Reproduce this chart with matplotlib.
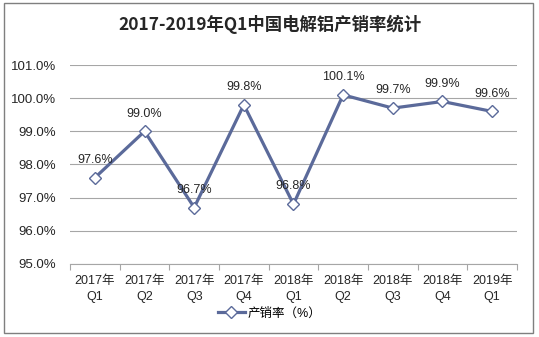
import matplotlib
matplotlib.use("Agg")
import matplotlib.pyplot as plt
from matplotlib.patches import Rectangle
from matplotlib.ticker import FuncFormatter

plt.rcParams['font.family'] = ['Liberation Sans', 'Noto Sans CJK SC', 'DejaVu Sans']

CATEGORIES = ["2017年\nQ1", "2017年\nQ2", "2017年\nQ3", "2017年\nQ4", "2018年\nQ1",
              "2018年\nQ2", "2018年\nQ3", "2018年\nQ4", "2019年\nQ1"]
RATE = [97.6, 99.0, 96.7, 99.8, 96.8, 100.1, 99.7, 99.9, 99.6]
YTICKS = [95.0, 96.0, 97.0, 98.0, 99.0, 100.0, 101.0]

LINE_COLOR = "#5B6A9A"
GRID_COLOR = "#A6A6A6"
TEXT_COLOR = "#262626"

fig = plt.figure(figsize=(5.39, 3.37), dpi=100)
fig.patches.append(Rectangle((0.007, 0.012), 0.982, 0.979, transform=fig.transFigure,
                             fill=False, edgecolor="#7F7F7F", linewidth=1.0))
ax = fig.add_axes([0.130, 0.217, 0.829, 0.590])

x = list(range(len(CATEGORIES)))
ax.plot(x, RATE, color=LINE_COLOR, linewidth=2.3, marker="D", markersize=6,
        markerfacecolor="white", markeredgecolor=LINE_COLOR, markeredgewidth=1.0,
        label="产销率（%）", zorder=3)
for xi, v in zip(x, RATE):
    ax.annotate(f"{v:.1f}%", (xi, v), xytext=(0, 8.5), textcoords="offset points",
                ha="center", va="bottom", fontsize=9, color=TEXT_COLOR)

ax.set_xlim(-0.5, len(CATEGORIES) - 0.5)
ax.set_ylim(95, 101)
ax.set_yticks(YTICKS)
ax.yaxis.set_major_formatter(FuncFormatter(lambda v, p: f"{v:.1f}%"))
ax.set_xticks([i - 0.5 for i in range(len(CATEGORIES) + 1)], minor=False)
ax.set_xticklabels([])
ax.set_xticks(x, minor=True)
ax.set_xticklabels(CATEGORIES, minor=True, fontsize=9, color=TEXT_COLOR, linespacing=1.45)
ax.tick_params(axis="x", which="major", length=4, color=GRID_COLOR)
ax.tick_params(axis="x", which="minor", length=0, pad=8)
ax.tick_params(axis="y", length=0, labelsize=9.5, labelcolor=TEXT_COLOR, pad=10)

ax.grid(axis="y", color=GRID_COLOR, linewidth=0.8)
ax.set_axisbelow(True)
for side in ["top", "right", "left"]:
    ax.spines[side].set_visible(False)
ax.spines["bottom"].set_color(GRID_COLOR)

fig.text(0.5, 0.928, "2017-2019年Q1中国电解铝产销率统计", ha="center", va="center",
         fontsize=12.5, fontweight="bold", color=TEXT_COLOR,
         family=["Noto Sans CJK SC", "DejaVu Sans"])
fig.legend(loc="center", bbox_to_anchor=(0.5, 0.07), frameon=False, fontsize=9,
           handlelength=2.2, handletextpad=0.2)

fig.savefig("out.png", dpi=100)
